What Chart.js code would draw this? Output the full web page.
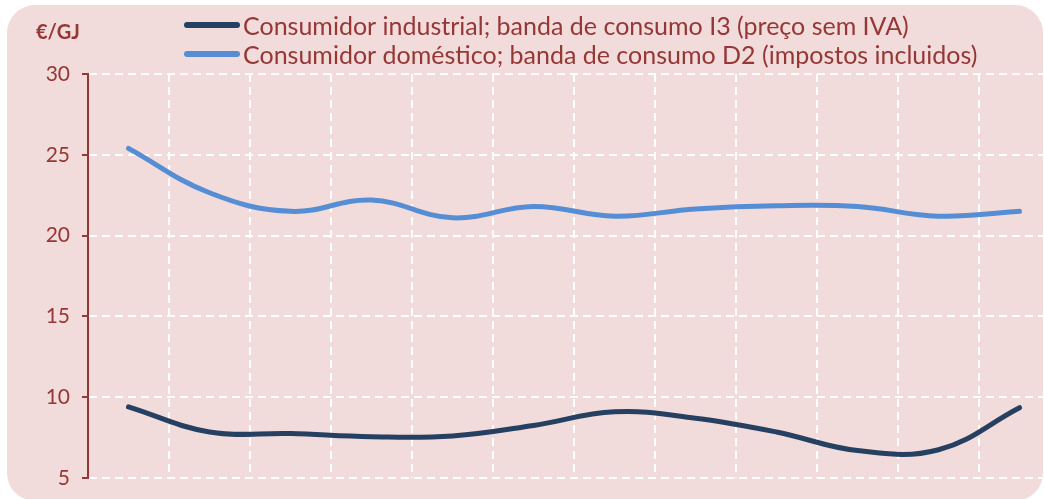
<!DOCTYPE html>
<html>
<head>
<meta charset="utf-8">
<script src="https://cdn.jsdelivr.net/npm/chart.js@4.4.1/dist/chart.umd.min.js"></script>
<style>
  body { margin: 0; background: #ffffff; }
  #box {
    position: absolute; left: 7px; top: 5px;
    width: 1036px; height: 496px;
    border-radius: 28px; background: #f2dcdb; overflow: hidden;
  }
  #chart { position: absolute; left: 0; top: 0; }
</style>
</head>
<body>
<div id="box"><canvas id="chart" width="1080" height="520"></canvas></div>
<script>
// periods (no labels shown on the original axis)
const periods = ['1', '2', '3', '4', '5', '6', '7', '8', '9', '10', '11', '12'];
const industrial = [9.4, 7.85, 7.75, 7.55, 7.6, 8.25, 9.1, 8.7, 7.85, 6.7, 6.75, 9.35];
const domestic = [25.4, 22.65, 21.5, 22.2, 21.1, 21.8, 21.2, 21.65, 21.85, 21.8, 21.2, 21.5];
const yTicks = [5, 10, 15, 20, 25, 30];

const seriesNames = [
  'Consumidor industrial; banda de consumo I3 (preço sem IVA)',
  'Consumidor doméstico; banda de consumo D2 (impostos incluidos)'
];
const unitLabel = '€/GJ';

const textColor = '#953735';

// legend + unit label drawn by hand (lines stacked, left aligned)
const legendPlugin = {
  id: 'stackedLegend',
  afterDraw(chart) {
    const ctx = chart.ctx;
    ctx.save();
    chart.data.datasets.forEach((ds, i) => {
      const y = 20 + i * 29;
      ctx.strokeStyle = ds.borderColor;
      ctx.lineWidth = 6;
      ctx.lineCap = 'round';
      ctx.beginPath();
      ctx.moveTo(180, y);
      ctx.lineTo(230, y);
      ctx.stroke();
      ctx.fillStyle = textColor;
      ctx.font = '25px Lato';
      ctx.textBaseline = 'middle';
      ctx.fillText(ds.label, 236, y + 2);
    });
    ctx.fillStyle = textColor;
    ctx.font = 'bold 20px Lato';
    ctx.textBaseline = 'middle';
    ctx.fillText(unitLabel, 29, 28);
    ctx.restore();
  }
};

const ctx = document.getElementById('chart').getContext('2d');
const priceChart = new Chart(ctx, {
  type: 'line',
  data: {
    labels: periods,
    datasets: [{
      label: seriesNames[0],
      data: industrial,
      borderColor: '#254061',
      borderWidth: 5,
      borderCapStyle: 'round',
      pointRadius: 0,
      tension: 0.4
    }, {
      label: seriesNames[1],
      data: domestic,
      borderColor: '#558ed5',
      borderWidth: 5,
      borderCapStyle: 'round',
      pointRadius: 0,
      tension: 0.4
    }]
  },
  options: {
    responsive: false,
    animation: false,
    layout: { padding: { left: 0, top: 69, right: 27, bottom: 47 } },
    plugins: {
      legend: { display: false },
      tooltip: { enabled: false }
    },
    scales: {
      x: {
        offset: true,
        ticks: { display: false },
        grid: { offset: true, color: '#ffffff', lineWidth: 2, drawTicks: false },
        border: { display: false, dash: [8, 5] }
      },
      y: {
        min: 5,
        max: 30,
        afterFit: (scale) => { scale.width = 81; },
        afterBuildTicks: (scale) => { scale.ticks = yTicks.map(v => ({ value: v })); },
        ticks: {
          color: textColor,
          padding: 12,
          font: { family: 'Lato', size: 21 }
        },
        grid: {
          color: '#ffffff',
          lineWidth: 2,
          tickColor: textColor,
          tickLength: 6,
          tickWidth: 2
        },
        border: { display: true, color: textColor, width: 2, dash: [8, 5], z: 1 }
      }
    }
  },
  plugins: [legendPlugin]
});
</script>
</body>
</html>
